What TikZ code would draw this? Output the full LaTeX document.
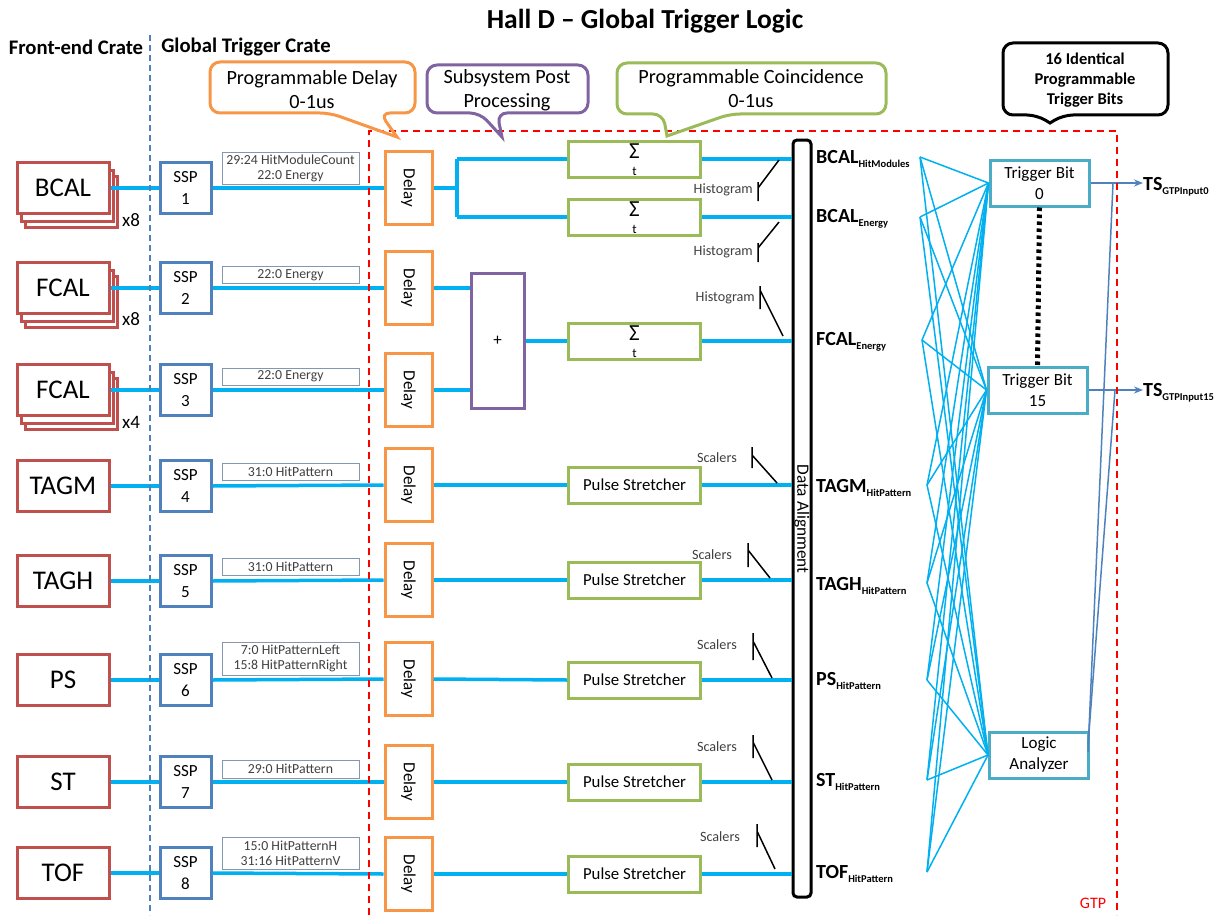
\documentclass[tikz,border=0pt]{standalone}
\usepackage{fontspec}
\setmainfont{Carlito}
\usetikzlibrary{arrows.meta}
\definecolor{feRed}{HTML}{C0504D}
\definecolor{sspBlue}{HTML}{4F81BD}
\definecolor{dlyOrange}{HTML}{F79646}
\definecolor{coGreen}{HTML}{9BBB59}
\definecolor{ppPurple}{HTML}{8064A2}
\definecolor{tbTeal}{HTML}{4BACC6}
\definecolor{sigCyan}{HTML}{00B0F0}
\definecolor{labEdge}{HTML}{8497B0}
\definecolor{txtGray}{HTML}{404040}
\definecolor{gtpRed}{HTML}{FF0000}
\newcommand{\lowtxt}[1]{\raisebox{-4pt}{\fontsize{10.5}{12}\selectfont\bfseries #1}}
\begin{document}
\begin{tikzpicture}[x=1pt,y=-1pt,
  fe/.style={draw=feRed,line width=3pt,fill=white,minimum width=92pt,minimum height=51pt,inner sep=0pt,font=\fontsize{27}{30}\selectfont},
  fesh/.style={draw=feRed,line width=2.5pt,fill=white,minimum width=92pt,minimum height=51pt,inner sep=0pt},
  mult/.style={font=\fontsize{19}{22}\selectfont,inner sep=0pt},
  ssp/.style={draw=sspBlue,line width=3pt,minimum width=51pt,minimum height=51pt,inner sep=0pt,align=center,font=\fontsize{17}{22}\selectfont},
  lab/.style={draw=labEdge,line width=0.8pt,minimum width=137pt,inner sep=1pt,align=center,text=txtGray,font=\fontsize{13.8}{15}\selectfont},
  dly/.style={draw=dlyOrange,line width=3pt,minimum width=47pt,minimum height=73pt,inner sep=0pt},
  dlytxt/.style={rotate=-90,font=\fontsize{17}{19}\selectfont,inner sep=0pt},
  grn/.style={draw=coGreen,line width=3pt,minimum width=132pt,minimum height=36pt,inner sep=0pt,align=center,font=\fontsize{16.8}{19}\selectfont},
  sigma/.style={font=\fontsize{23}{23}\selectfont,inner sep=0pt,text height=12pt,text depth=3pt},
  tsub/.style={font=\fontsize{13}{13}\selectfont,inner sep=0pt,text height=8pt,text depth=0pt},
  plusbox/.style={draw=ppPurple,line width=3pt,minimum width=53pt,minimum height=135pt,inner sep=0pt,font=\fontsize{17}{18}\selectfont},
  bar/.style={draw=black,line width=3pt,rounded corners=4pt,minimum width=18pt,minimum height=757pt,inner sep=0pt},
  sig/.style={draw=sigCyan,line width=3.5pt},
  fan/.style={draw=sigCyan,line width=1.5pt},
  tb/.style={draw=tbTeal,line width=3pt,fill=white,minimum width=99pt,minimum height=46pt,inner sep=0pt,align=center,font=\fontsize{17}{21}\selectfont},
  sw/.style={draw=black,line width=1.5pt},
  swlab/.style={text=txtGray,font=\fontsize{14.2}{16}\selectfont,anchor=east,inner sep=0pt},
  outlab/.style={font=\bfseries\fontsize{20}{22}\selectfont,anchor=base west,inner sep=0pt},
  outarr/.style={draw=sspBlue,line width=1.5pt,-{Stealth[length=9pt,width=7pt]}},
  callout/.style={line width=3pt,rounded corners=10pt},
  cotext/.style={align=center,font=\fontsize{20.2}{24}\selectfont,inner sep=0pt},
  hdr/.style={font=\bfseries\fontsize{20.7}{22}\selectfont,inner sep=0pt}
]
\useasboundingbox (0,0) rectangle (1220,915);

% headers
\node[font=\bfseries\fontsize{27.5}{30}\selectfont,inner sep=0pt] (title) at (645,21) {Hall D – Global Trigger Logic};
\node[hdr] (hfe) at (76,47) {Front-end Crate};
\node[hdr] (hgt) at (246,47) {Global Trigger Crate};

% front-end boxes
\node[fesh] (b1c) at (71.5,202) {};
\node[fesh] (b1b) at (67.5,196) {};
\node[fe] (fe1) at (63,188) {BCAL};
\node[mult] (m1) at (131,220) {x8};
\node[fesh] (b2c) at (71.5,302) {};
\node[fesh] (b2b) at (67.5,296) {};
\node[fe] (fe2) at (63,288) {FCAL};
\node[mult] (m2) at (131,319) {x8};
\node[fesh] (b3c) at (71.5,404) {};
\node[fesh] (b3b) at (67.5,398) {};
\node[fe] (fe3) at (63,390) {FCAL};
\node[mult] (m3) at (131,422) {x4};
\node[fe] (fe4) at (63,486) {TAGM};
\node[fe] (fe5) at (63,581) {TAGH};
\node[fe] (fe6) at (63,680) {PS};
\node[fe] (fe7) at (63,782) {ST};
\node[fe] (fe8) at (63,873) {TOF};

% SSP boxes
\node[ssp] (s1) at (185.5,188) {SSP\\1};
\node[ssp] (s2) at (185.5,288) {SSP\\2};
\node[ssp] (s3) at (185.5,390) {SSP\\3};
\node[ssp] (s4) at (185.5,486) {SSP\\4};
\node[ssp] (s5) at (185.5,581) {SSP\\5};
\node[ssp] (s6) at (185.5,680) {SSP\\6};
\node[ssp] (s7) at (185.5,782) {SSP\\7};
\node[ssp] (s8) at (185.5,873) {SSP\\8};

% data labels
\node[lab,minimum height=32pt] (l1) at (290.5,168) {29:24 HitModuleCount\\22:0 Energy};
\node[lab,minimum height=17pt] (l2) at (290.5,275) {22:0 Energy};
\node[lab,minimum height=17pt] (l3) at (290.5,376.5) {22:0 Energy};
\node[lab,minimum height=17pt] (l4) at (290.5,472) {31:0 HitPattern};
\node[lab,minimum height=17pt] (l5) at (290.5,566.5) {31:0 HitPattern};
\node[lab,minimum height=33pt] (l6) at (290.5,658.5) {7:0 HitPatternLeft\\15:8 HitPatternRight};
\node[lab,minimum height=18pt] (l7) at (290.5,769) {29:0 HitPattern};
\node[lab,minimum height=32pt] (l8) at (290.5,853) {15:0 HitPatternH\\31:16 HitPatternV};

% delay boxes
\foreach \i/\yy in {1/188,2/288,3/390,4/485,5/580,6/679,7/782,8/874}{
  \node[dly] (d\i) at (408.5,\yy) {};
  \node[dlytxt] (dt\i) at (d\i) {Delay};
}

% coincidence / stretcher boxes
\node[grn] (c1) at (634.5,159) {};
\node[grn] (c2) at (634.5,217) {};
\node[grn] (c3) at (634.5,341) {};
\foreach \i in {1,2,3}{
  \node[sigma] (sg\i) at ([yshift=5.5pt]c\i.center) {Σ};
  \node[tsub] (tt\i) at ([yshift=-12.5pt]c\i.center) {t};
}
\node[grn] (c4) at (634.5,485) {Pulse Stretcher};
\node[grn] (c5) at (634.5,580) {Pulse Stretcher};
\node[grn] (c6) at (634.5,680) {Pulse Stretcher};
\node[grn] (c7) at (634.5,782) {Pulse Stretcher};
\node[grn] (c8) at (634.5,874) {Pulse Stretcher};

\node[plusbox] (plus) at (497.5,340.5) {+};

% data alignment bar
\node[bar] (bar) at (802,518.5) {};
\node[rotate=-90,font=\fontsize{17.3}{19}\selectfont,inner sep=0pt] (bartxt) at (802,519) {Data Alignment};

% signal lines
\foreach \i in {1,...,8}{
  \draw[sig] (fe\i.east) -- (s\i.west);
  \draw[sig] (s\i.east) -- (d\i.west);
}
\coordinate (br) at (457,188);
\draw[sig] (d1.east) -- (br);
\draw[sig] (c1.west -| br) -- (c2.west -| br);
\draw[sig] (c1.west -| br) -- (c1.west);
\draw[sig] (c2.west -| br) -- (c2.west);
\draw[sig] (d2.east) -- (d2.east -| plus.west);
\draw[sig] (d3.east) -- (d3.east -| plus.west);
\draw[sig] (plus.east |- c3.west) -- (c3.west);
\foreach \i in {4,...,8}{
  \draw[sig] (d\i.east) -- (c\i.west);
}
\foreach \i in {1,...,8}{
  \draw[sig] (c\i.east) -- (c\i.east -| bar.west);
}

% switches
\node[swlab] (h1) at (753,190) {Histogram};
\draw[sw] (758,182) -- (758,201) (758,188) -- (779,160);
\node[swlab] (h2) at (753,252) {Histogram};
\draw[sw] (758,243) -- (758,262) (758,248) -- (779,222);
\node[swlab] (h3) at (755,298) {Histogram};
\draw[sw] (760,286) -- (760,309) (760,290) -- (783,336);
\node[swlab] (sc4) at (737,458) {Scalers};
\draw[sw] (752,447) -- (752,468) (752,455) -- (777,483);
\node[swlab] (sc5) at (732,555) {Scalers};
\draw[sw] (748,543) -- (748,567) (748,550) -- (770,578);
\node[swlab] (sc6) at (737,645) {Scalers};
\draw[sw] (753,633) -- (753,660) (753,641) -- (772,678);
\node[swlab] (sc7) at (737,747) {Scalers};
\draw[sw] (753,735) -- (753,758) (753,742) -- (772,780);
\node[swlab] (sc8) at (740,837) {Scalers};
\draw[sw] (757,824) -- (757,847) (757,831) -- (775,869);

% output labels
\node[outlab] (o1) at (816,163) {BCAL\lowtxt{HitModules}};
\node[outlab] (o2) at (816,222) {BCAL\lowtxt{Energy}};
\node[outlab] (o3) at (816,345) {FCAL\lowtxt{Energy}};
\node[outlab] (o4) at (816,492) {TAGM\lowtxt{HitPattern}};
\node[outlab] (o5) at (816,590) {TAGH\lowtxt{HitPattern}};
\node[outlab] (o6) at (816,685) {PS\lowtxt{HitPattern}};
\node[outlab] (o7) at (816,786) {ST\lowtxt{HitPattern}};
\node[outlab] (o8) at (816,878) {TOF\lowtxt{HitPattern}};

% trigger bits
\node[tb] (tb0) at (1039.5,183) {Trigger Bit\\0};
\node[tb] (tb15) at (1037.5,390) {Trigger Bit\\15};
\node[tb] (la) at (1039,755) {Logic\\Analyzer};
\draw[line width=5pt,dash pattern=on 3.5pt off 3.5pt] (tb0.south) -- (tb15.north);

% fan
\coordinate (f1) at (920,157);
\coordinate (f2) at (920,217);
\coordinate (f3) at (922,340);
\coordinate (f4) at (927,485);
\coordinate (f5) at (927,583);
\coordinate (f6) at (927,680);
\coordinate (f7) at (927,780);
\coordinate (f8) at (927,872);
\foreach \s in {f1,f2,f3,f4,f5,f6,f7,f8}{
  \foreach \t in {tb0,tb15,la}{
    \draw[fan] (\s) -- (\t.west);
  }
}

% outputs
\node[outlab] (ts0) at (1143,190) {TS\lowtxt{GTPInput0}};
\node[outlab] (ts15) at (1143,396) {TS\lowtxt{GTPInput15}};
\draw[outarr] (tb0.east) -- (tb0.east -| ts0.west);
\draw[outarr] (tb15.east) -- (tb15.east -| ts15.west);
\coordinate (j0) at (1113,183);
\coordinate (j15) at (1115,390);
\coordinate (la1) at (1088,752);
\coordinate (la2) at (1088,745);
\draw[draw=sspBlue,line width=1.5pt] (la1) -- (j0);
\draw[draw=sspBlue,line width=1.5pt] (la2) -- (j15);

% region lines
\draw[sspBlue,line width=1.5pt,dash pattern=on 6pt off 4pt] (150,35) -- (150,915);
\draw[gtpRed,line width=1.5pt,dash pattern=on 7pt off 5pt] (369,915) -- (369,131) -- (1117,131) -- (1117,915);
\node[text=gtpRed,font=\fontsize{16}{18}\selectfont,inner sep=0pt] (gtp) at (1093,903) {GTP};

% callouts
\draw[dlyOrange,callout] (397,137) -- (330,113) -- (210,113) -- (210,62) -- (415,62) -- (415,113) -- (380,113) [sharp corners] -- cycle;
\node[cotext] (co1) at (312,90) {Programmable Delay\\0-1us};
\draw[ppPurple,callout] (502,137) -- (480,113) -- (427,113) -- (427,65) -- (588,65) -- (588,113) -- (497,113) [sharp corners] -- cycle;
\node[cotext] (co2) at (507,90) {Subsystem Post\\Processing};
\draw[coGreen,callout] (667,136) -- (663,114) -- (617,114) -- (617,63) -- (886,63) -- (886,114) -- (730,114) [sharp corners] -- cycle;
\node[cotext] (co3) at (751,89) {Programmable Coincidence\\0-1us};
\draw[black,callout] (1050,123) -- (1037,115) -- (1003,115) -- (1003,43) -- (1168,43) -- (1168,115) -- (1063,115) [sharp corners] -- cycle;
\node[cotext,font=\bfseries\fontsize{16.5}{20}\selectfont] (co4) at (1085,80) {16 Identical\\Programmable\\Trigger Bits};
\end{tikzpicture}
\end{document}
